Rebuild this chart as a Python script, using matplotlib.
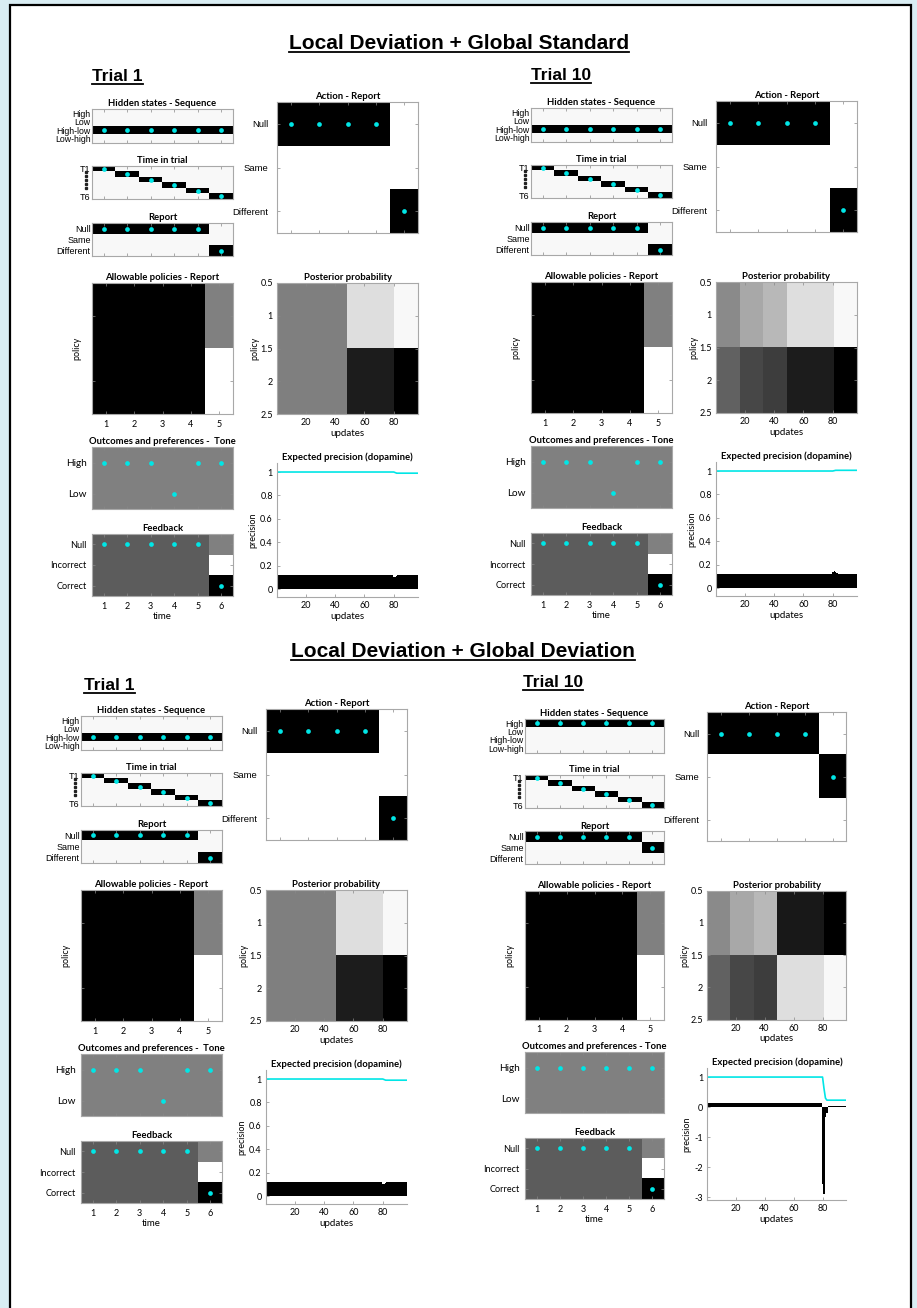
import matplotlib
matplotlib.use('Agg')
import matplotlib.pyplot as plt
import numpy as np
from matplotlib.lines import Line2D
from matplotlib.patches import Rectangle
from matplotlib.transforms import blended_transform_factory

W, H = 917, 1308

plt.rcParams['font.family'] = ['Lato', 'DejaVu Sans']

# ---- labels shared by every trial block ----
section_titles = ['Local Deviation + Global Standard',
                  'Local Deviation + Global Deviation']
trial_titles = ['Trial 1', 'Trial 10', 'Trial 1', 'Trial 10']
seq_labels = ['High', 'Low', 'High-low', 'Low-high']
time_labels = ['T1', '', '', '', '', 'T6']
report_labels = ['Null', 'Same', 'Different']
tone_labels = ['High', 'Low']
feedback_labels = ['Null', 'Incorrect', 'Correct']
time_steps = [1, 2, 3, 4, 5, 6]
action_steps = [1, 2, 3, 4, 5]
policy_steps = [1, 2, 3, 4, 5]
update_ticks = [20, 40, 60, 80]
policy_ticks = [0.5, 1, 1.5, 2, 2.5]

# ---- per block data (row indices into the label lists) ----
seq_state = [2, 2, 2, 0]
report_outcome = [[0, 0, 0, 0, 0, 2], [0, 0, 0, 0, 0, 2],
                  [0, 0, 0, 0, 0, 2], [0, 0, 0, 0, 0, 1]]
action_taken = [[0, 0, 0, 0, 2], [0, 0, 0, 0, 2],
                [0, 0, 0, 0, 2], [0, 0, 0, 0, 1]]
tone_outcome = [[0, 0, 0, 1, 0, 0], [0, 0, 0, 1, 0, 0],
                [0, 0, 0, 1, 0, 0], [0, 0, 0, 0, 0, 0]]
feedback_outcome = [0, 0, 0, 0, 0, 2]

# grey levels of the preference / policy images (1 = white)
tone_shade = [[0.5, 0.5, 0.5, 0.5, 0.5, 0.5],
              [0.5, 0.5, 0.5, 0.5, 0.5, 0.5]]
feedback_shade = [[0.36, 0.36, 0.36, 0.36, 0.36, 0.5],
                  [0.36, 0.36, 0.36, 0.36, 0.36, 1.0],
                  [0.36, 0.36, 0.36, 0.36, 0.36, 0.0]]
policy_shade = [[0.0, 0.0, 0.0, 0.0, 0.5],
                [0.0, 0.0, 0.0, 0.0, 1.0]]

# posterior over the two policies, held over segments of updates
segment_len = [16, 16, 16, 32, 16]
post_policy1 = [[0.50, 0.50, 0.50, 0.13, 0.03],
                [0.46, 0.34, 0.28, 0.13, 0.03],
                [0.50, 0.50, 0.50, 0.13, 0.03],
                [0.46, 0.34, 0.28, 0.90, 1.00]]
post_policy2 = [[0.50, 0.50, 0.50, 0.89, 1.00],
                [0.62, 0.72, 0.76, 0.89, 1.00],
                [0.50, 0.50, 0.50, 0.89, 1.00],
                [0.62, 0.72, 0.76, 0.13, 0.03]]

# expected precision (cyan) and dopamine responses (black bars), 96 updates
precision = [
    [1.0] * 80 + [0.995, 0.99] + [0.99] * 14,
    [1.0] * 80 + [1.003, 1.006] + [1.006] * 14,
    [1.0] * 80 + [0.995, 0.99] + [0.99] * 14,
    [1.0] * 80 + [0.62, 0.30] + [0.23] * 14,
]
dopamine = [
    [0.12] * 79 + [0.105, 0.10, 0.11, 0.12] + [0.12] * 13,
    [0.12] * 79 + [0.14, 0.145, 0.135, 0.13] + [0.12] * 13,
    [0.12] * 79 + [0.105, 0.10, 0.11, 0.12] + [0.12] * 13,
    [0.12] * 79 + [-2.55, -2.88, -0.32, -0.2] + [0.03] * 13,
]
precision_ylim = [(-0.068, 1.077), (-0.068, 1.077),
                  (-0.068, 1.077), (-3.1, 1.3)]
precision_ticks = [[0, 0.2, 0.4, 0.6, 0.8, 1], [0, 0.2, 0.4, 0.6, 0.8, 1],
                   [0, 0.2, 0.4, 0.6, 0.8, 1], [-3, -2, -1, 0, 1]]

# block origin (pixels, top-left) and scale
blocks = [(92, 109, 1.0), (531, 108, 1.0), (81, 716, 1.0), (525, 719, 0.986)]
trial_pos = [(92, 81), (531, 80), (84, 690), (523, 687)]
section_pos = [(459, 49), (463, 657)]

CYAN = '#00e6e6'
EDGE = '#a8a8a8'
ARIAL = ['Liberation Sans', 'DejaVu Sans']

fig = plt.figure(figsize=(W / 100, H / 100), dpi=100)
fig.patch.set_facecolor('#d9edf3')
fig.patches.append(Rectangle((10 / W, -0.01), 901 / W, 1 - 5 / H + 0.01,
                             transform=fig.transFigure, facecolor='white',
                             edgecolor='black', linewidth=1.6, zorder=-5))


def add_px_axes(ox, oy, s, box):
    x0, y0, x1, y1 = box
    x0, x1 = ox + s * x0, ox + s * x1
    y0, y1 = oy + s * y0, oy + s * y1
    return fig.add_axes([x0 / W, 1 - y1 / H, (x1 - x0) / W, (y1 - y0) / H])


def style(ax, title, title_size=6.8):
    for sp in ax.spines.values():
        sp.set_color(EDGE)
        sp.set_linewidth(0.8)
    ax.tick_params(direction='in', length=2, width=0.5, color='#888888',
                   top=True, right=True, labelsize=6, pad=2)
    ax.set_title(title, fontsize=title_size, fontweight='bold', pad=2)


def show_image(ax, shade, cmap='gray'):
    shade = np.asarray(shade, dtype=float)
    n_rows, n_cols = shade.shape
    ax.imshow(shade, cmap=cmap, vmin=0, vmax=1, aspect='auto',
              interpolation='nearest',
              extent=(0.5, n_cols + 0.5, n_rows + 0.5, 0.5))


def belief_image(idx, n_rows, off=0.97):
    idx = np.asarray(idx)
    shade = np.full((n_rows, len(idx)), off)
    shade[idx, np.arange(len(idx))] = 0.0
    return shade


def dots(ax, cols, rows):
    ax.plot(cols, rows, 'o', color=CYAN, markersize=3.4, markeredgewidth=0)


def ylabels(ax, labels, size, family):
    ax.set_yticks(range(1, len(labels) + 1))
    ax.set_yticklabels(labels, fontsize=size, family=family)


for b, (ox, oy, s) in enumerate(blocks):
    # hidden states - sequence
    ax = add_px_axes(ox, oy, s, (0, 0, 141, 34))
    seq = [seq_state[b]] * len(time_steps)
    show_image(ax, belief_image(seq, len(seq_labels)))
    dots(ax, time_steps, np.array(seq) + 1)
    style(ax, 'Hidden states - Sequence')
    ax.set_xticks(time_steps)
    ax.set_xticklabels([])
    ylabels(ax, seq_labels, 6.3, ARIAL)
    ax.tick_params(axis='y', pad=1, length=0)

    # time in trial
    ax = add_px_axes(ox, oy, s, (0, 57, 141, 90))
    tt = [t - 1 for t in time_steps]
    show_image(ax, belief_image(tt, len(time_labels)))
    dots(ax, time_steps, time_steps)
    style(ax, 'Time in trial')
    ax.set_xticks(time_steps)
    ax.set_xticklabels([])
    ylabels(ax, time_labels, 6.5, ARIAL)
    ax.tick_params(axis='y', pad=1, length=0)
    tr = blended_transform_factory(ax.transAxes, ax.transData)
    ax.plot([-0.045] * 5, [1.65, 2.35, 3.05, 3.75, 4.45], 's', color='#222222',
            markersize=1.4, transform=tr, clip_on=False)

    # report
    ax = add_px_axes(ox, oy, s, (0, 114, 141, 147))
    rep = np.array(report_outcome[b])
    show_image(ax, belief_image(rep, len(report_labels)))
    dots(ax, time_steps, rep + 1)
    style(ax, 'Report')
    ax.set_xticks(time_steps)
    ax.set_xticklabels([])
    ylabels(ax, report_labels, 6.5, ARIAL)
    ax.tick_params(axis='y', pad=1, length=0)

    # action - report
    ax = add_px_axes(ox, oy, s, (185, -7, 326, 124))
    act = np.array(action_taken[b])
    show_image(ax, belief_image(act, len(report_labels), off=1.0))
    dots(ax, action_steps, act + 1)
    style(ax, 'Action - Report')
    ax.set_xticks(action_steps)
    ax.set_xticklabels([])
    ylabels(ax, report_labels, 6.8, ARIAL)
    ax.tick_params(axis='y', pad=6)

    # allowable policies
    ax = add_px_axes(ox, oy, s, (0, 174, 141, 305))
    show_image(ax, policy_shade)
    style(ax, 'Allowable policies - Report')
    ax.set_xticks(policy_steps)
    ax.set_yticks([1, 2])
    ax.set_yticklabels([])
    ax.set_ylabel('policy', fontsize=6.5, labelpad=4)
    ax.tick_params(labelsize=6.5, pad=4)

    # posterior probability over policies
    ax = add_px_axes(ox, oy, s, (185, 174, 326, 305))
    post = np.array([np.repeat(post_policy1[b], segment_len),
                     np.repeat(post_policy2[b], segment_len)])
    n_upd = post.shape[1]
    ax.imshow(post, cmap='gray_r', vmin=0, vmax=1, aspect='auto',
              interpolation='nearest', extent=(0.5, n_upd + 0.5, 2.5, 0.5))
    style(ax, 'Posterior probability')
    ax.set_xticks(update_ticks)
    ax.set_yticks(policy_ticks)
    ax.set_yticklabels(['0.5', '1', '1.5', '2', '2.5'])
    ax.set_xlabel('updates', fontsize=7, labelpad=1)
    ax.set_ylabel('policy', fontsize=6.5, labelpad=1)
    ax.tick_params(labelsize=6.5, pad=3)

    # outcomes and preferences - tone
    ax = add_px_axes(ox, oy, s, (0, 338, 141, 400))
    show_image(ax, tone_shade)
    tone = np.array(tone_outcome[b])
    dots(ax, time_steps, tone + 1)
    title = ('Outcomes and preferences -  Tone' if b % 2 == 0
             else 'Outcomes and preferences - Tone')
    style(ax, title)
    ax.set_xticks(time_steps)
    ax.set_xticklabels([])
    ylabels(ax, tone_labels, 7.2, ['Lato', 'DejaVu Sans'])
    ax.tick_params(axis='y', pad=4)

    # feedback
    ax = add_px_axes(ox, oy, s, (0, 425, 141, 487))
    show_image(ax, feedback_shade)
    fb = np.array(feedback_outcome)
    dots(ax, time_steps, fb + 1)
    style(ax, 'Feedback')
    ax.set_xticks(time_steps)
    ylabels(ax, feedback_labels, 6.6, ['Lato', 'DejaVu Sans'])
    ax.tick_params(axis='y', pad=4)
    ax.tick_params(axis='x', labelsize=6.5, pad=4)
    ax.set_xlabel('time', fontsize=7, labelpad=1)

    # expected precision (dopamine)
    ax = add_px_axes(ox, oy, s, (185, 354, 326, 488))
    updates = np.arange(1, len(dopamine[b]) + 1)
    ax.bar(updates, dopamine[b], width=1.0, color='black', linewidth=0)
    ax.plot(updates, precision[b], color=CYAN, linewidth=1.2)
    style(ax, 'Expected precision (dopamine)')
    ax.spines['top'].set_visible(False)
    ax.spines['right'].set_visible(False)
    ax.tick_params(top=False, right=False, labelsize=6.5, pad=3)
    ax.set_xlim(0.5, len(updates) + 0.5)
    ax.set_ylim(*precision_ylim[b])
    ax.set_xticks(update_ticks)
    ax.set_yticks(precision_ticks[b])
    ax.set_yticklabels([('%g' % v) for v in precision_ticks[b]])
    ax.set_xlabel('updates', fontsize=7, labelpad=1)
    ax.set_ylabel('precision', fontsize=6.5, labelpad=2)

# headings with underlines
headings = []
for text, (x, y) in zip(section_titles, section_pos):
    headings.append(fig.text(x / W, 1 - y / H, text, ha='center',
                             va='baseline', fontsize=15, fontweight='bold',
                             family=ARIAL))
for text, (x, y) in zip(trial_titles, trial_pos):
    headings.append(fig.text(x / W, 1 - y / H, text, ha='left',
                             va='baseline', fontsize=12.5, fontweight='bold',
                             family=ARIAL))

fig.canvas.draw()
renderer = fig.canvas.get_renderer()
for t in headings:
    bb = t.get_window_extent(renderer)
    y = t.get_position()[1] * H - 3
    fig.lines.append(Line2D([bb.x0 / W, bb.x1 / W], [y / H, y / H],
                            transform=fig.transFigure, color='black',
                            linewidth=1.3))

fig.savefig('out.png', dpi=100, facecolor=fig.get_facecolor())
